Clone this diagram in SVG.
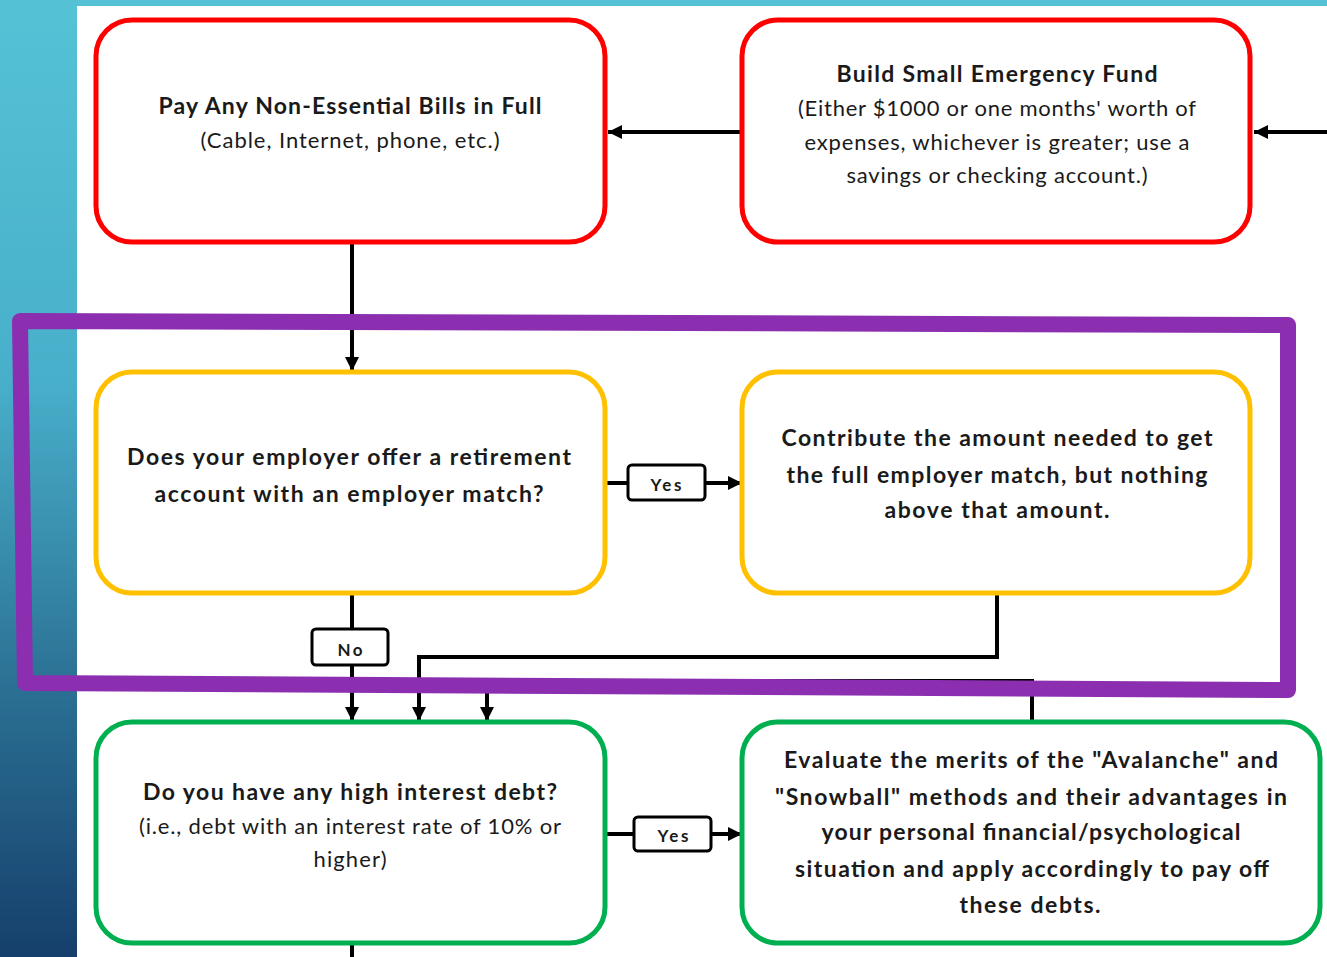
<svg xmlns="http://www.w3.org/2000/svg" width="1327" height="957" viewBox="0 0 1327 957">
<defs>
<linearGradient id="bg" x1="0" y1="0" x2="0" y2="1">
<stop offset="0" stop-color="#55C2D6"/>
<stop offset="0.4" stop-color="#48AFCA"/>
<stop offset="0.72" stop-color="#2B7094"/>
<stop offset="1" stop-color="#153F6C"/>
</linearGradient>
<marker id="arr" viewBox="0 0 10 10" refX="10" refY="5" markerWidth="3.6" markerHeight="3.6" orient="auto" markerUnits="strokeWidth">
<path d="M0,0 L10,5 L0,10 Z" fill="#000"/>
</marker>
<style>
.red{fill:#fff;stroke:#FF0000;stroke-width:5}
.yel{fill:#fff;stroke:#FFC000;stroke-width:5}
.grn{fill:#fff;stroke:#00B050;stroke-width:5}
.ln{fill:none;stroke:#000;stroke-width:4}
.lab{fill:#fff;stroke:#000;stroke-width:3}
text{font-family:Lato,"Open Sans",sans-serif;fill:#1a1a1a;text-anchor:middle}
.b{font-weight:bold;font-size:23px}
.r{font-size:22px}
.s{font-weight:bold;font-size:17px}
</style>
</defs>
<rect x="0" y="0" width="1327" height="957" fill="url(#bg)"/>
<rect x="0" y="0" width="1327" height="6" fill="#55C1D5"/>
<rect x="77" y="6" width="1250" height="951" fill="#fff"/>

<g id="connectors">
<path class="ln" d="M1327,132 H1254" marker-end="url(#arr)"/>
<path class="ln" d="M742,132 H608" marker-end="url(#arr)"/>
<path class="ln" d="M352,243 V371" marker-end="url(#arr)"/>
<path class="ln" d="M606,483 H628"/>
<path class="ln" d="M705,483 H742" marker-end="url(#arr)"/>
<path class="ln" d="M352,594 V629"/>
<path class="ln" d="M352,665 V721" marker-end="url(#arr)"/>
<path class="ln" d="M997,594 V657 H419 V721" marker-end="url(#arr)"/>
<path class="ln" d="M1032,722 V681 H487 V721" marker-end="url(#arr)"/>
<path class="ln" d="M606,834 H634"/>
<path class="ln" d="M711,834 H742" marker-end="url(#arr)"/>
<path class="ln" d="M352,944 V957"/>
<rect class="lab" x="628" y="465" width="77" height="35" rx="4"/>
<text class="s" x="666" y="491" textLength="31" lengthAdjust="spacing">Yes</text>
<rect class="lab" x="312" y="629" width="76" height="36" rx="4"/>
<text class="s" x="350" y="656" textLength="25" lengthAdjust="spacing">No</text>
<rect class="lab" x="634" y="817" width="77" height="34" rx="4"/>
<text class="s" x="673" y="842" textLength="31" lengthAdjust="spacing">Yes</text>
</g>

<g id="n1">
<rect class="red" x="96" y="20" width="509" height="222" rx="36"/>
<text class="b" x="350" y="114" textLength="383" lengthAdjust="spacing">Pay Any Non-Essential Bills in Full</text>
<text class="r" x="350" y="148" textLength="299" lengthAdjust="spacing">(Cable, Internet, phone, etc.)</text>
</g>
<g id="n2">
<rect class="red" x="742" y="20" width="508" height="222" rx="36"/>
<text class="b" x="997" y="82" textLength="321" lengthAdjust="spacing">Build Small Emergency Fund</text>
<text class="r" x="997" y="116" textLength="398" lengthAdjust="spacing">(Either $1000 or one months' worth of</text>
<text class="r" x="997" y="150" textLength="385" lengthAdjust="spacing">expenses, whichever is greater; use a</text>
<text class="r" x="997" y="183" textLength="301" lengthAdjust="spacing">savings or checking account.)</text>
</g>
<g id="n3">
<rect class="yel" x="96" y="372" width="509" height="221" rx="36"/>
<text class="b" x="349" y="465" textLength="444" lengthAdjust="spacing">Does your employer offer a retirement</text>
<text class="b" x="349" y="502" textLength="389" lengthAdjust="spacing">account with an employer match?</text>
</g>
<g id="n4">
<rect class="yel" x="742" y="372" width="508" height="221" rx="36"/>
<text class="b" x="997" y="446" textLength="431" lengthAdjust="spacing">Contribute the amount needed to get</text>
<text class="b" x="997" y="483" textLength="421" lengthAdjust="spacing">the full employer match, but nothing</text>
<text class="b" x="997" y="518" textLength="225" lengthAdjust="spacing">above that amount.</text>
</g>
<g id="n5">
<rect class="grn" x="96" y="722" width="509" height="221" rx="36"/>
<text class="b" x="350" y="800" textLength="414" lengthAdjust="spacing">Do you have any high interest debt?</text>
<text class="r" x="350" y="834" textLength="422" lengthAdjust="spacing">(i.e., debt with an interest rate of 10% or</text>
<text class="r" x="350" y="867" textLength="73" lengthAdjust="spacing">higher)</text>
</g>
<g id="n6">
<rect class="grn" x="742" y="722" width="578" height="221" rx="36"/>
<text class="b" x="1031" y="768" textLength="494" lengthAdjust="spacing">Evaluate the merits of the "Avalanche" and</text>
<text class="b" x="1031" y="805" textLength="512" lengthAdjust="spacing">"Snowball" methods and their advantages in</text>
<text class="b" x="1031" y="840" textLength="419" lengthAdjust="spacing">your personal financial/psychological</text>
<text class="b" x="1032" y="877" textLength="474" lengthAdjust="spacing">situation and apply accordingly to pay off</text>
<text class="b" x="1030" y="913" textLength="141" lengthAdjust="spacing">these debts.</text>
</g>
<g id="highlight">
<path d="M20,321 L1288,325 L1288,690 L25,683 Z" fill="none" stroke="#8B2FB0" stroke-width="16" stroke-linejoin="round"/>
</g>
</svg>
